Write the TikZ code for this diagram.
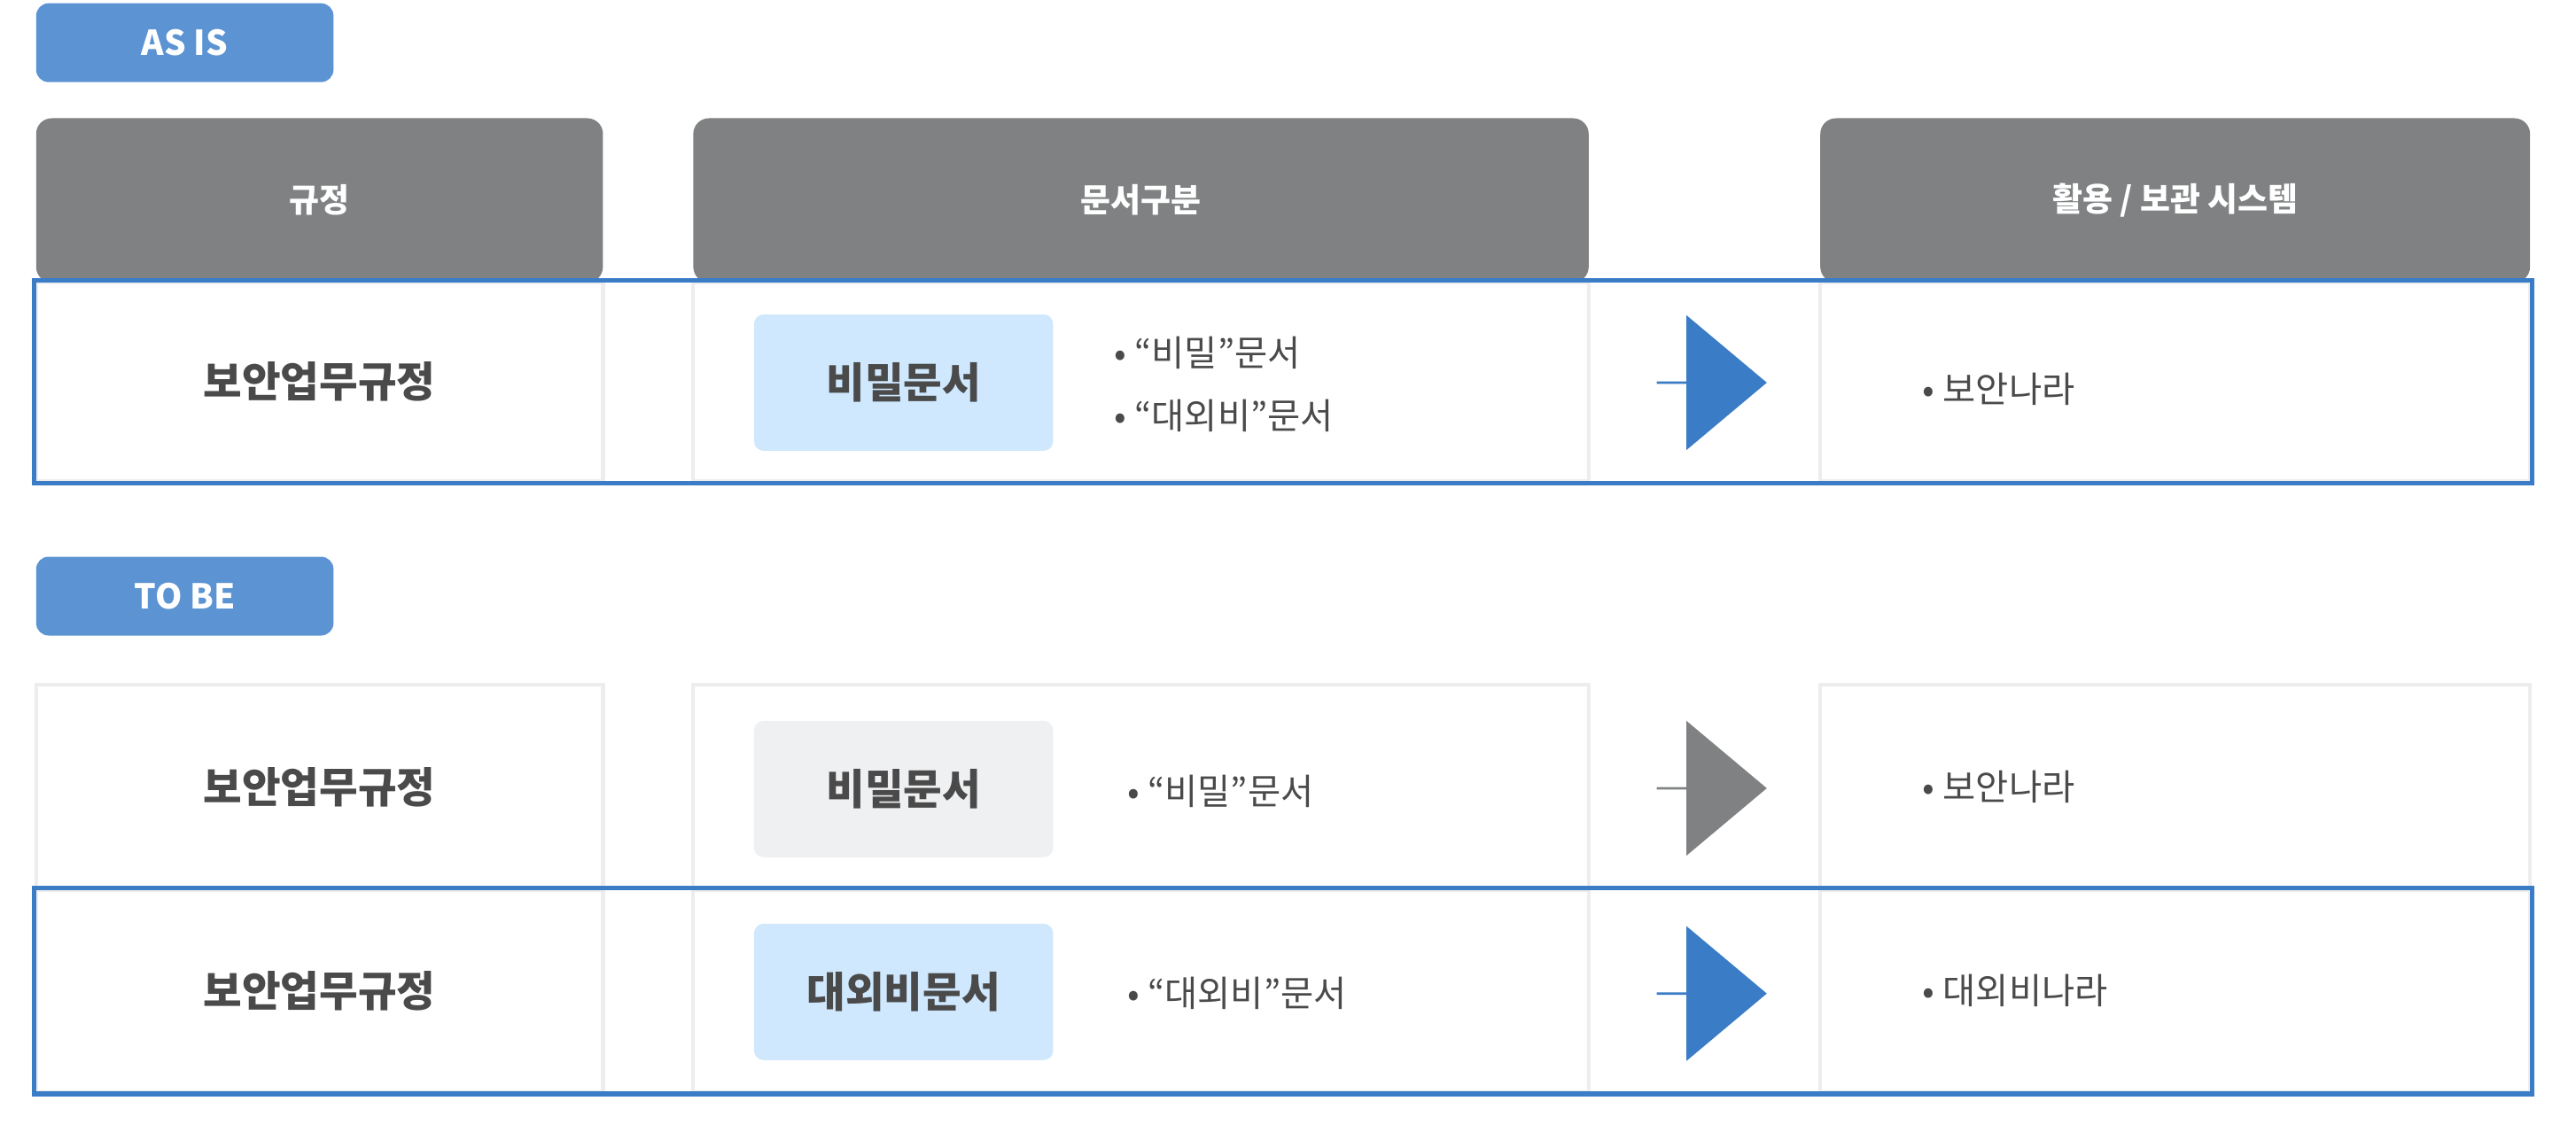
\documentclass[tikz,border=0pt]{standalone}
\usepackage{fontspec}
\setmainfont{Noto Sans CJK KR}
\usetikzlibrary{shapes.arrows}
\def\px{0.01854cm}
\definecolor{tagblue}{HTML}{5B93D3}
\definecolor{headgray}{HTML}{7F8182}
\definecolor{lineblue}{HTML}{3A7CC6}
\definecolor{lightblue}{HTML}{CFE8FD}
\definecolor{lightgray}{HTML}{EFF0F2}
\definecolor{textgray}{HTML}{4A4A4A}
\tikzset{
  tag/.style={fill=tagblue, rounded corners=4pt, text=white, font=\bfseries\fontsize{11}{13}\selectfont,
    minimum width=181*\px, minimum height=48*\px, inner sep=0pt},
  head/.style={fill=headgray, rounded corners=5pt, text=white, font=\bfseries\fontsize{10.5}{12}\selectfont,
    minimum height=100*\px, inner sep=0pt},
  card/.style={fill=white, draw=black!7, line width=1.2pt, minimum height=121*\px, inner sep=0pt,
    text=textgray, font=\bfseries\fontsize{13.5}{16}\selectfont},
  kind/.style={rounded corners=3pt, minimum width=182*\px, minimum height=83*\px, inner sep=0pt,
    text=textgray, font=\bfseries\fontsize{13.5}{16}\selectfont},
  item/.style={text=textgray, anchor=west, inner sep=0pt, font=\fontsize{11.5}{14}\selectfont},
  flow/.style={single arrow, minimum height=67*\px, minimum width=82*\px, inner sep=0pt,
    single arrow head extend=21*\px, single arrow tip angle=80},
  frame/.style={draw=lineblue, line width=1.5pt}
}
\begin{document}
\begin{tikzpicture}[x=\px, y=-\px]
  \useasboundingbox (0,0) rectangle (1568,689);
  % AS IS
  \node[tag] (asis) at (112.5,26) {AS IS};
  \node[head, minimum width=345*\px] (h1) at (194.5,122) {규정};
  \node[head, minimum width=545*\px] (h2) at (694.5,122) {문서구분};
  \node[head, minimum width=432*\px] (h3) at (1324,122) {활용 / 보관 시스템};
  \node[card, minimum width=345*\px] (a1) at (194.5,232.5) {보안업무규정};
  \node[card, minimum width=545*\px] (a2) at (694.5,232.5) {};
  \node[card, minimum width=432*\px] (a3) at (1324,232.5) {};
  \node[kind, fill=lightblue] (ak) at (550,233) {비밀문서};
  \node[item] (ab1) at (678,215) {• “비밀”문서};
  \node[item] (ab2) at (678,253) {• “대외비”문서};
  \node[flow, fill=lineblue] (af) at (1041.5,233) {};
  \node[item] (as) at (1170,237) {• 보안나라};
  \draw[frame] (a1.north west) rectangle (a3.south east);
  % TO BE
  \node[tag] (tobe) at (112.5,363) {TO BE};
  \node[card, minimum width=345*\px, minimum height=125*\px] (b1) at (194.5,479.5) {보안업무규정};
  \node[card, minimum width=545*\px, minimum height=125*\px] (b2) at (694.5,479.5) {};
  \node[card, minimum width=432*\px, minimum height=125*\px] (b3) at (1324,479.5) {};
  \node[kind, fill=lightgray] (bk) at (550,480.5) {비밀문서};
  \node[item] (bb) at (686,482) {•  “비밀”문서};
  \node[flow, fill=headgray] (bf) at (1041.5,480) {};
  \node[item] (bs) at (1170,479) {•  보안나라};
  \node[card, minimum width=345*\px, minimum height=123*\px] (c1) at (194.5,603.5) {보안업무규정};
  \node[card, minimum width=545*\px, minimum height=123*\px] (c2) at (694.5,603.5) {};
  \node[card, minimum width=432*\px, minimum height=123*\px] (c3) at (1324,603.5) {};
  \node[kind, fill=lightblue] (ck) at (550,604) {대외비문서};
  \node[item] (cb) at (686,605) {•  “대외비”문서};
  \node[flow, fill=lineblue] (cf) at (1041.5,605) {};
  \node[item] (cs) at (1170,603) {•  대외비나라};
  \draw[frame] (c1.north west) rectangle (c3.south east);
\end{tikzpicture}
\end{document}
